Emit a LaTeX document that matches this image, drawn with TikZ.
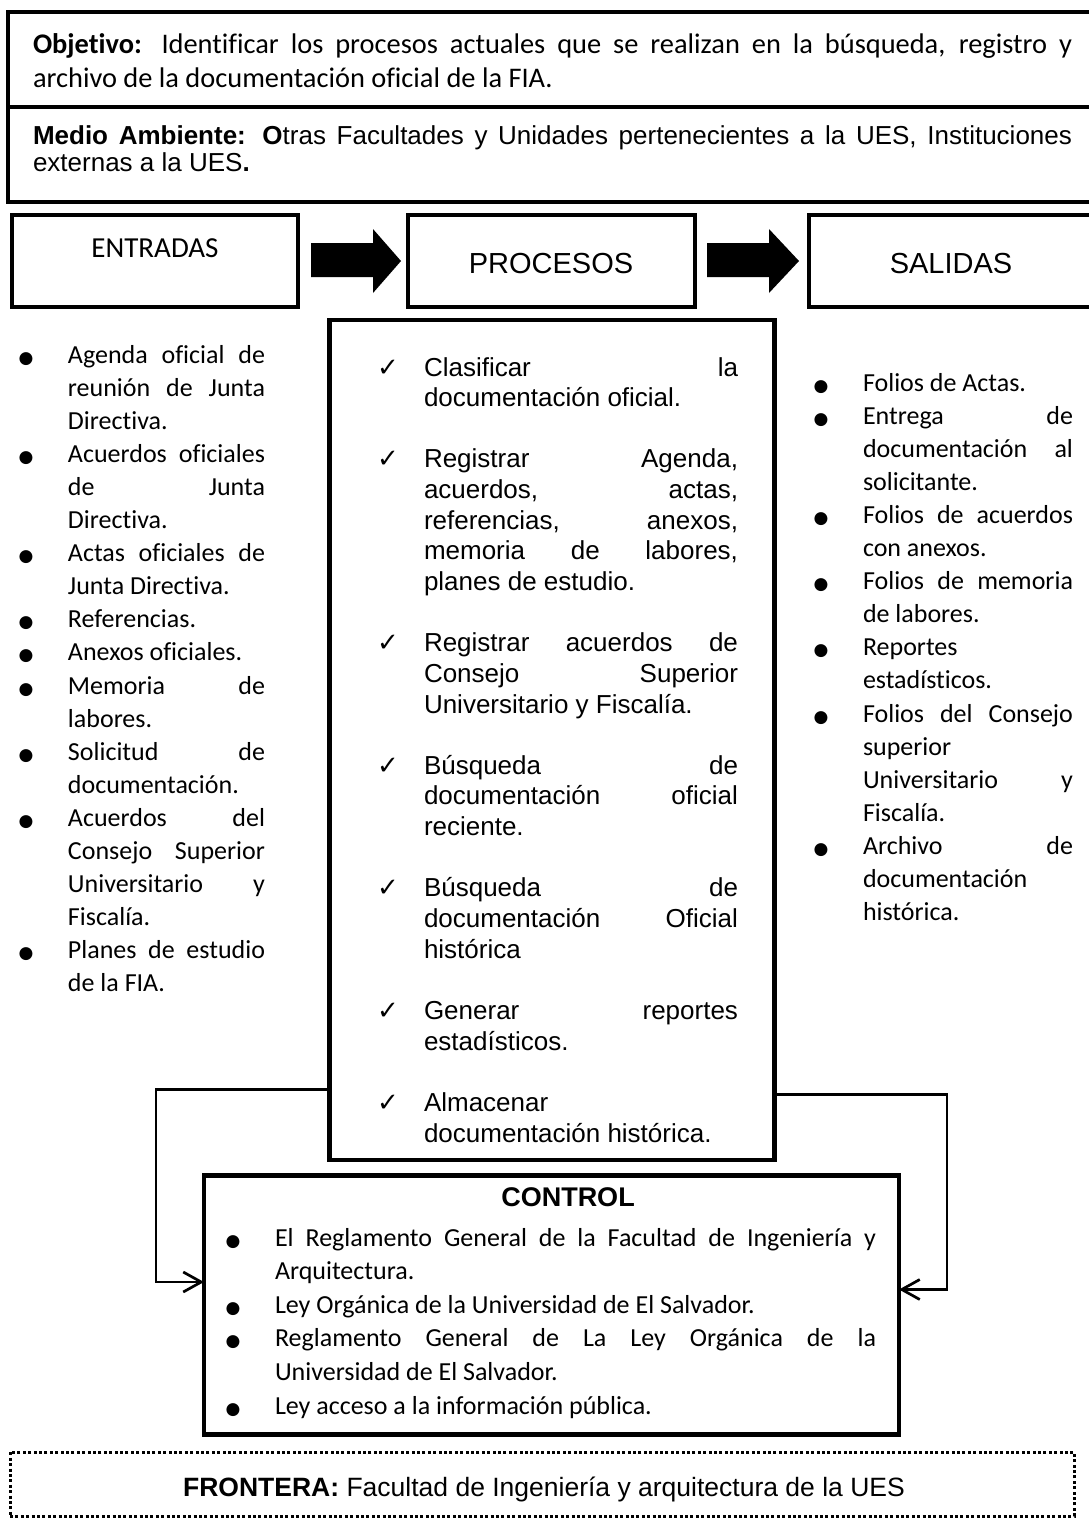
\documentclass[tikz,border=0pt]{standalone}
\usepackage{fontspec}
\setmainfont{Carlito}[Ligatures=NoCommon]
\newfontfamily\arialf{Liberation Sans}[Ligatures=NoCommon]
\newfontfamily\symf{DejaVu Sans}
\usetikzlibrary{arrows.meta}

% one justified line / one ragged line of a paragraph
\newcommand\jus[1]{\makebox[\linewidth][s]{#1}\par}
\newcommand\lft[1]{\mbox{#1}\par}
% hanging bullet and hanging check mark
\newcommand\bul{\leavevmode\llap{\makebox[42pt]{\symf\fontsize{8.5}{8.5}\selectfont ●}}}
\newcommand\chk{\leavevmode\llap{\makebox[36pt]{\symf\fontsize{13}{13}\selectfont ✓}}}
% text column starting at a given first baseline
\newcommand\colbox[3]{\parbox[t]{#1}{\setlength\parskip{0pt}\setlength\parindent{0pt}#2\selectfont #3}}

\begin{document}
\begin{tikzpicture}[x=0.5pt,y=-0.5pt,
  frame/.style={draw,line width=2.25pt,inner sep=0pt,outer sep=0pt},
  thinframe/.style={draw,line width=2pt,inner sep=0pt,outer sep=0pt},
  border/.style={draw,line width=1.5pt,dash pattern=on 1.5pt off 1.2pt,inner sep=0pt},
  txt/.style={inner sep=0pt,outer sep=0pt,anchor=base west},
  ctxt/.style={inner sep=0pt,outer sep=0pt,anchor=base},
  blockarrow/.style={fill=black,draw=none},
  fb/.style={line width=1.35pt,-{Straight Barb[length=9pt,width=10pt,line width=1.35pt]}}]

\useasboundingbox (0,0) rectangle (1088,1522);
\fill[white] (0,0) rectangle (1088,1522);

% objective and environment
\node[thinframe,minimum width=546pt,minimum height=47.5pt] (obj) at (554,59.5) {};
\node[thinframe,minimum width=546pt,minimum height=47.5pt] (med) at (554,154.5) {};
\node[txt] (objtxt) at (33,53) {\colbox{519.5pt}{\fontsize{14.2}{17.3}}{%
  \jus{\textbf{Objetivo:} Identificar los procesos actuales que se realizan en la búsqueda, registro y}
  \lft{archivo de la documentación oficial de la FIA.}}};
\node[txt] (medtxt) at (33,144) {\colbox{519.5pt}{\arialf\fontsize{13}{13.5}}{%
  \jus{\textbf{Medio Ambiente: O}tras Facultades y Unidades pertenecientes a la UES, Instituciones}
  \lft{externas a la UES\textbf{.}}}};

% header boxes
\node[frame,minimum width=143pt,minimum height=46pt] (ent) at (155,261) {};
\node[frame,minimum width=143.5pt,minimum height=46pt] (pro) at (551.5,261) {};
\node[frame,minimum width=145.5pt,minimum height=46pt] (sal) at (954.5,261) {};
\node[ctxt] (enttxt) at (155,257) {\fontsize{14.5}{17}\selectfont ENTRADAS};
\node[ctxt] (protxt) at (551,273) {\arialf\fontsize{14.5}{17}\selectfont PROCESOS};
\node[ctxt] (saltxt) at (951,273) {\arialf\fontsize{14.5}{17}\selectfont SALIDAS};

% block arrows between headers
\fill[blockarrow] (311,243) -- (373,243) -- (373,229) -- (401,261) -- (373,293) -- (373,277) -- (311,277) -- cycle;
\fill[blockarrow] (707,243) -- (769,243) -- (769,229) -- (799,261) -- (769,293) -- (769,277) -- (707,277) -- cycle;

% inputs
\node[txt] (inlist) at (68,363) {\colbox{98.5pt}{\fontsize{13}{16.55}}{%
  \bul\jus{Agenda oficial de}
  \jus{reunión de Junta}
  \lft{Directiva.}
  \bul\jus{Acuerdos oficiales}
  \jus{de Junta}
  \lft{Directiva.}
  \bul\jus{Actas oficiales de}
  \lft{Junta Directiva.}
  \bul\lft{Referencias.}
  \bul\lft{Anexos oficiales.}
  \bul\jus{Memoria de}
  \lft{labores.}
  \bul\jus{Solicitud de}
  \lft{documentación.}
  \bul\jus{Acuerdos del}
  \jus{Consejo Superior}
  \jus{Universitario y}
  \lft{Fiscalía.}
  \bul\jus{Planes de estudio}
  \lft{de la FIA.}}};

% processes
\node[frame,minimum width=222.5pt,minimum height=420pt] (proc) at (552,740) {};
\node[txt] (proclist) at (424,376) {\colbox{157pt}{\arialf\fontsize{13}{15.32}}{%
  \chk\jus{Clasificar la}
  \lft{documentación oficial.}
  \mbox{}\par
  \chk\jus{Registrar Agenda,}
  \jus{acuerdos, actas,}
  \jus{referencias, anexos,}
  \jus{memoria de labores,}
  \lft{planes de estudio.}
  \mbox{}\par
  \chk\jus{Registrar acuerdos de}
  \jus{Consejo Superior}
  \lft{Universitario y Fiscalía.}
  \mbox{}\par
  \chk\jus{Búsqueda de}
  \jus{documentación oficial}
  \lft{reciente.}
  \mbox{}\par
  \chk\jus{Búsqueda de}
  \jus{documentación Oficial}
  \lft{histórica}
  \mbox{}\par
  \chk\jus{Generar reportes}
  \lft{estadísticos.}
  \mbox{}\par
  \chk\lft{Almacenar}
  \lft{documentación histórica.}}};

% outputs
\node[txt] (outlist) at (863,391) {\colbox{105pt}{\fontsize{13}{16.55}}{%
  \bul\lft{Folios de Actas.}
  \bul\jus{Entrega de}
  \jus{documentación al}
  \lft{solicitante.}
  \bul\jus{Folios de acuerdos}
  \lft{con anexos.}
  \bul\jus{Folios de memoria}
  \lft{de labores.}
  \bul\lft{Reportes}
  \lft{estadísticos.}
  \bul\jus{Folios del Consejo}
  \lft{superior}
  \jus{Universitario y}
  \lft{Fiscalía.}
  \bul\jus{Archivo de}
  \lft{documentación}
  \lft{histórica.}}};

% control
\node[frame,minimum width=347.5pt,minimum height=129.5pt] (ctrl) at (551.5,1305) {};
\node[ctxt] (ctrltitle) at (568,1206) {\arialf\fontsize{13.5}{15}\selectfont\textbf{CONTROL}};
\node[txt] (ctrllist) at (275,1246) {\colbox{300.5pt}{\fontsize{13}{16.8}}{%
  \bul\jus{El Reglamento General de la Facultad de Ingeniería y}
  \lft{Arquitectura.}
  \bul\lft{Ley Orgánica de la Universidad de El Salvador.}
  \bul\jus{Reglamento General de La Ley Orgánica de la}
  \lft{Universidad de El Salvador.}
  \bul\lft{Ley acceso a la información pública.}}};

% feedback loops from processes to control
\coordinate (lA) at (156,1089.5);
\coordinate (lB) at (156,1282);
\coordinate (rA) at (947,1094.5);
\coordinate (rB) at (947,1289.5);
\draw[fb] (proc.west |- lA) -- (lA) -- (lB) -- (ctrl.west |- lB);
\draw[fb] (proc.east |- rA) -- (rA) -- (rB) -- (ctrl.east |- rB);

% boundary
\node[border,minimum width=532pt,minimum height=32pt] (fron) at (542,1484) {};
\node[ctxt] (frontxt) at (544,1496) {\arialf\fontsize{13.25}{15}\selectfont\textbf{FRONTERA:} Facultad de Ingeniería y arquitectura de la UES};
\end{tikzpicture}
\end{document}
